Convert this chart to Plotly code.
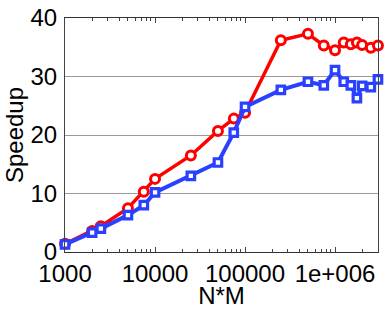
import plotly.graph_objects as go

nm = [1000, 2000, 2500, 5000, 7500, 10000, 25000, 50000, 75000, 100000,
      250000, 500000, 750000, 1000000, 1250000, 1500000, 1750000, 2000000, 2500000, 3000000]
speedup_red = [1.4, 3.6, 4.4, 7.5, 10.3, 12.5, 16.5, 20.7, 22.8, 23.8,
               36.2, 37.3, 35.3, 34.5, 35.8, 35.5, 35.8, 35.4, 34.9, 35.3]
speedup_blue = [1.3, 3.3, 4.0, 6.3, 8.0, 10.2, 13.0, 15.3, 20.4, 24.8,
                27.7, 29.1, 28.5, 31.1, 29.1, 28.5, 26.3, 28.4, 28.2, 29.5]

xtickvals = [1000, 10000, 100000, 1000000]
xticktext = ["1000", "10000", "100000", "1e+006"]
ytickvals = [0, 10, 20, 30, 40]
minor_vals = [m * d for d in [1000, 10000, 100000, 1000000] for m in range(2, 10) if m * d <= 3000000]

font = "Liberation Sans, Arial, sans-serif"
fs = 24

fig = go.Figure()
fig.add_trace(go.Scatter(
    x=nm, y=speedup_red, mode="lines+markers", cliponaxis=False,
    line=dict(color="#ff0000", width=3.5),
    marker=dict(symbol="circle", size=9, color="white",
                line=dict(color="#ff0000", width=3)),
    showlegend=False))
fig.add_trace(go.Scatter(
    x=nm, y=speedup_blue, mode="lines+markers", cliponaxis=False,
    line=dict(color="#2a40ff", width=4),
    marker=dict(symbol="square", size=7.5, color="white",
                line=dict(color="#2a40ff", width=3.2)),
    showlegend=False))

fig.update_layout(
    width=388, height=309,
    margin=dict(l=65, r=10, t=18, b=57),
    paper_bgcolor="white", plot_bgcolor="white",
    font=dict(family=font, size=fs, color="black"),
    xaxis=dict(
        type="log", range=[2.9995, 6.4775], automargin=False,
        tickvals=xtickvals, ticktext=xticktext,
        ticks="inside", ticklen=5, tickcolor="#444", tickwidth=1,
        minor=dict(tickmode="array", tickvals=minor_vals, ticks="inside",
                   ticklen=3, tickcolor="#444", tickwidth=1, showgrid=False),
        showline=True, linecolor="#333", linewidth=1, mirror="ticks",
        showgrid=False, zeroline=False,
        title=dict(text="N*M", standoff=0, font=dict(size=fs)),
        tickfont=dict(size=fs), ticklabelstandoff=0,
    ),
    yaxis=dict(
        range=[0, 40], tickvals=ytickvals, automargin=False,
        ticks="", showline=True, linecolor="#444", linewidth=1, mirror=True,
        showgrid=True, gridcolor="#999", gridwidth=1, zeroline=False,
        title=dict(text="Speedup", standoff=0, font=dict(size=fs)),
        tickfont=dict(size=fs), ticklabelstandoff=2,
    ),
)

fig.write_html("out.html", config={"displayModeBar": False},
               post_script="document.body.style.margin='0';document.body.style.padding='0';")
